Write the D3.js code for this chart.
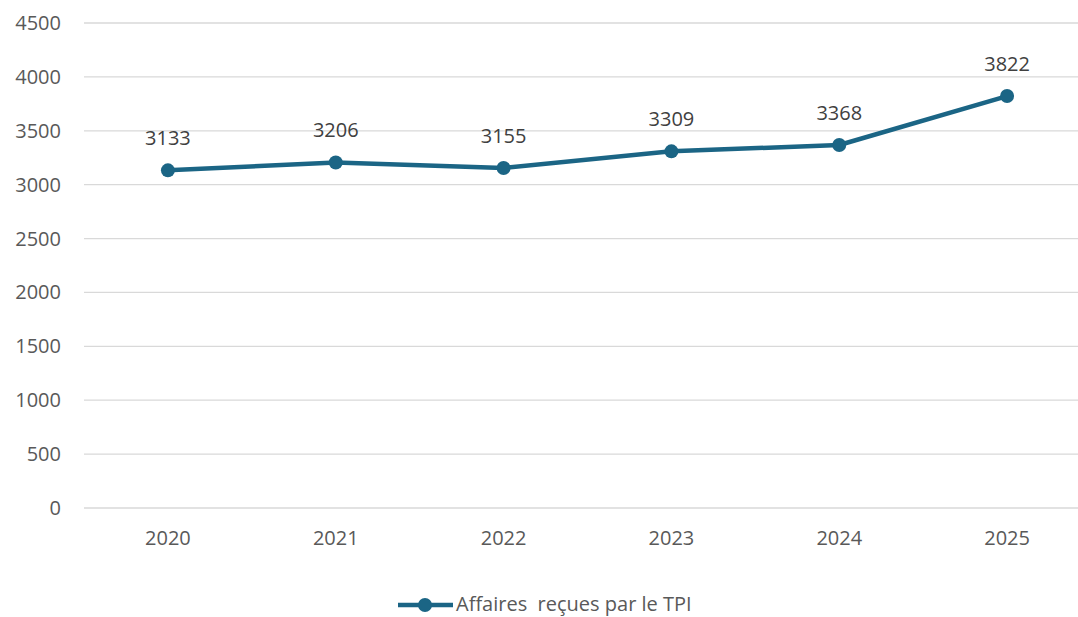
<!DOCTYPE html>
<html>
<head>
<meta charset="utf-8">
<script src="https://cdn.jsdelivr.net/npm/d3@7"></script>
<style>
  body { margin: 0; background: #fff; }
  svg text { font-family: "Open Sans", sans-serif; }
</style>
</head>
<body>
<script>
var years = ["2020", "2021", "2022", "2023", "2024", "2025"];
var affaires = [3133, 3206, 3155, 3309, 3368, 3822];
var yTicks = [0, 500, 1000, 1500, 2000, 2500, 3000, 3500, 4000, 4500];
var seriesName = "Affaires  reçues par le TPI";

var width = 1078,
    height = 617;

var color = "#1b6585";

var svg = d3.select("body").append("svg")
  .attr("width", width)
  .attr("height", height);

var x = d3.scalePoint()
  .domain(years)
  .range([84, 1091])
  .padding(0.5);

var y = d3.scaleLinear()
  .domain([0, 4500])
  .range([508, 23]);

// gridlines
svg.append("g")
  .selectAll("line")
  .data(yTicks)
  .enter()
.append("line")
  .attr("x1", 84)
  .attr("x2", width)
  .attr("y1", function(d) {return y(d);})
  .attr("y2", function(d) {return y(d);})
  .attr("stroke", "#d9d9d9")
  .attr("stroke-width", 1.3);

// y axis labels
svg.append("g")
  .selectAll("text")
  .data(yTicks)
  .enter()
.append("text")
  .attr("x", 61)
  .attr("y", function(d) {return y(d);})
  .attr("dy", "0.35em")
  .attr("text-anchor", "end")
  .attr("font-size", 20)
  .attr("fill", "#595959")
  .text(function(d) {return d;});

// x axis labels
svg.append("g")
  .selectAll("text")
  .data(years)
  .enter()
.append("text")
  .attr("x", function(d) {return x(d);})
  .attr("y", 538)
  .attr("dy", "0.35em")
  .attr("text-anchor", "middle")
  .attr("font-size", 20)
  .attr("fill", "#595959")
  .text(function(d) {return d;});

var pts = years.map(function(d, i) {return {year: d, value: affaires[i]};});

svg.append("path")
  .datum(pts)
  .attr("fill", "none")
  .attr("stroke", color)
  .attr("stroke-width", 4.5)
  .attr("stroke-linejoin", "round")
  .attr("d", d3.line()
    .x(function(d) {return x(d.year);})
    .y(function(d) {return y(d.value);}));

svg.append("g")
  .selectAll("circle")
  .data(pts)
  .enter()
.append("circle")
  .attr("cx", function(d) {return x(d.year);})
  .attr("cy", function(d) {return y(d.value);})
  .attr("r", 7)
  .attr("fill", color);

// data labels
svg.append("g")
  .selectAll("text")
  .data(pts)
  .enter()
.append("text")
  .attr("x", function(d) {return x(d.year);})
  .attr("y", function(d) {return y(d.value) - 32;})
  .attr("dy", "0.35em")
  .attr("text-anchor", "middle")
  .attr("font-size", 20)
  .attr("fill", "#404040")
  .text(function(d) {return d.value;});

// legend
var lg = svg.append("g");
lg.append("line")
  .attr("x1", 398).attr("x2", 453)
  .attr("y1", 605).attr("y2", 605)
  .attr("stroke", color)
  .attr("stroke-width", 4.5);
lg.append("circle")
  .attr("cx", 425).attr("cy", 605).attr("r", 7)
  .attr("fill", color);
lg.append("text")
  .attr("x", 456)
  .attr("y", 604)
  .attr("dy", "0.35em")
  .attr("font-size", 20)
  .attr("fill", "#595959")
  .style("white-space", "pre")
  .text(seriesName);
</script>
</body>
</html>
